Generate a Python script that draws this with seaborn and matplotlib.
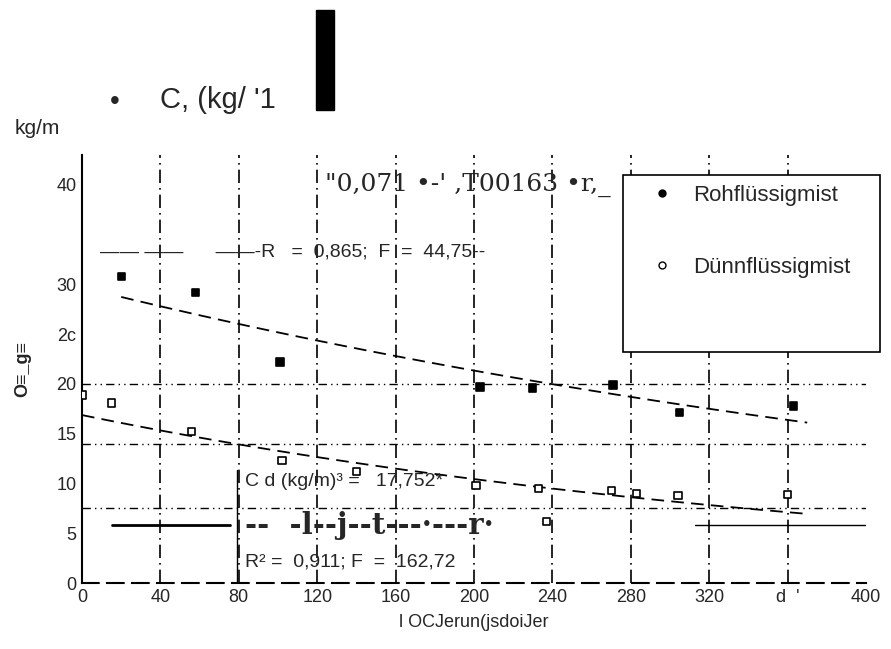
import numpy as np
import pandas as pd
import matplotlib
matplotlib.use("Agg")
import matplotlib.pyplot as plt
from matplotlib.patches import Rectangle
from matplotlib.lines import Line2D
import seaborn as sns

# --- data ---
roh_x = [20, 58, 101, 203, 230, 271, 305, 363]
roh_y = [30.8, 29.2, 22.2, 19.7, 19.6, 19.9, 17.1, 17.8]
duenn_x = [0, 15, 56, 102, 201, 233, 270, 283, 304, 360, 140, 237]
duenn_y = [18.9, 18.1, 15.2, 12.3, 9.8, 9.5, 9.3, 9.0, 8.8, 8.9, 11.2, 6.2]
series_names = ["Rohflüssigmist", "Dünnflüssigmist"]
x_ticks = [0, 40, 80, 120, 160, 200, 240, 280, 320, 360, 400]
x_tick_labels = ["0", "40", "80", "120", "160", "200", "240", "280", "320", "d  '", "400"]
y_ticks = [0, 5, 10, 15, 20, 25, 30, 40]
y_tick_labels = ["0", "5", "10", "15", "20", "2c", "30", "40"]

df = pd.DataFrame({
    "x": roh_x + duenn_x,
    "y": roh_y + duenn_y,
    "Art": [series_names[0]] * len(roh_x) + [series_names[1]] * len(duenn_x),
})

sns.set_theme(style="white")
plt.rcParams["font.family"] = ["Liberation Sans", "DejaVu Sans"]

W, H = 891, 649
L, R, T, B = 82, 866, 155, 583
fig = plt.figure(figsize=(W / 100, H / 100), dpi=100)
ax = fig.add_axes([L / W, 1 - B / H, (R - L) / W, (B - T) / H])

def ax_x(px):
    return (px - L) / (R - L)

def ax_y(py):
    return (B - py) / (B - T)

# grid-like dash-dot lines
for gx in x_ticks[1:-1]:
    ax.axvline(gx, color="black", lw=1.2, ls=(0, (8, 3, 1, 3)), zorder=0)
for gy in [7.5, 14, 20]:
    ax.axhline(gy, color="black", lw=1.0, ls=(0, (6, 3, 1, 3, 1, 3)), zorder=0)

sns.scatterplot(data=df, x="x", y="y", hue="Art",
                palette=["black", "black"], marker="s",
                s=28, ax=ax, legend=False, zorder=3)
coll = ax.collections[-1]
fc = np.array([[0, 0, 0, 1]] * len(roh_x) + [[1, 1, 1, 1]] * len(duenn_x))
coll.set_facecolors(fc)
coll.set_edgecolors("black")
coll.set_linewidths(1.2)

# exponential trend lines fitted to the data
xx = np.linspace(20, 370, 100)
b1, a1 = np.polyfit(roh_x, np.log(roh_y), 1)
ax.plot(xx, np.exp(a1 + b1 * xx), color="black", lw=1.3, ls=(0, (7, 4)), zorder=2)
xx2 = np.linspace(0, 370, 100)
b2, a2 = np.polyfit(duenn_x, np.log(duenn_y), 1)
ax.plot(xx2, np.exp(a2 + b2 * xx2), color="black", lw=1.3, ls=(0, (7, 4)), zorder=2)

ax.set_xlim(0, 400)
ax.set_ylim(0, 43)
ax.set_xticks(x_ticks)
ax.set_xticklabels(x_tick_labels, fontsize=13)
ax.set_yticks(y_ticks)
ax.set_yticklabels(y_tick_labels, fontsize=13)
ax.tick_params(axis="both", length=0, pad=4)
for s in ["top", "right"]:
    ax.spines[s].set_visible(False)
ax.spines["left"].set_color("black")
ax.spines["left"].set_linewidth(1.5)
ax.spines["bottom"].set_color("black")
ax.spines["bottom"].set_linestyle((0, (8, 4)))
ax.spines["bottom"].set_linewidth(1.5)
ax.set_xlabel("l OCJerun(jsdoiJer", fontsize=13, labelpad=6)
ax.set_ylabel("O≡_g≡", fontsize=13, fontweight="bold", labelpad=18)

# legend box
ax.add_patch(Rectangle((ax_x(623), ax_y(352)), ax_x(880) - ax_x(623), ax_y(175) - ax_y(352),
                       transform=ax.transAxes, facecolor="white", edgecolor="black", lw=1.2,
                       clip_on=False, zorder=1.5))
handles = [Line2D([], [], marker="o", color="black", ls="", markersize=5),
           Line2D([], [], marker="o", markerfacecolor="white", markeredgecolor="black", ls="", markersize=5)]
leg = ax.legend(handles, series_names, loc="upper left",
                bbox_to_anchor=(ax_x(640), ax_y(174)),
                frameon=False, fontsize=16, labelspacing=2.3, borderpad=0,
                handlelength=1.0, handletextpad=0.9)

# annotations
ax.text(ax_x(325), ax_y(185), "\"0,071 •-' ,T00163 •r,_", transform=ax.transAxes,
        fontsize=18, family="DejaVu Serif", va="center")
ax.text(ax_x(100), ax_y(252), "—— ——      ——-R   =  0,865;  F  =  44,75--",
        transform=ax.transAxes, fontsize=14, va="center")
ax.text(ax_x(245), ax_y(482), "C d (kg/m)³ =   17,752*", transform=ax.transAxes,
        fontsize=14, va="center")
ax.text(ax_x(245), ax_y(562), "R² =  0,911; F  =  162,72", transform=ax.transAxes,
        fontsize=14, va="center")
ax.plot([ax_x(112), ax_x(230)], [ax_y(525), ax_y(525)], transform=ax.transAxes,
        color="black", lw=2)
ax.plot([ax_x(237), ax_x(237)], [ax_y(470), ax_y(583)], transform=ax.transAxes,
        color="black", lw=1)
ax.text(ax_x(245), ax_y(525), "--  -l--j--t---·---r·", transform=ax.transAxes,
        fontsize=21, family="DejaVu Serif", fontweight="bold", va="center")
ax.plot([ax_x(695), ax_x(866)], [ax_y(525), ax_y(525)], transform=ax.transAxes,
        color="black", lw=1)

# figure-level texts
fig.text(110 / W, 1 - 102 / H, "•", fontsize=20, va="center")
fig.text(160 / W, 1 - 100 / H, "C, (kg/ '1", fontsize=21, va="center")
fig.text(15 / W, 1 - 128 / H, "kg/m", fontsize=15, va="center")
fig.patches.append(Rectangle((316 / W, 1 - 110 / H), 18 / W, 100 / H,
                             transform=fig.transFigure, color="black", figure=fig))

fig.savefig("out.png", dpi=100)
